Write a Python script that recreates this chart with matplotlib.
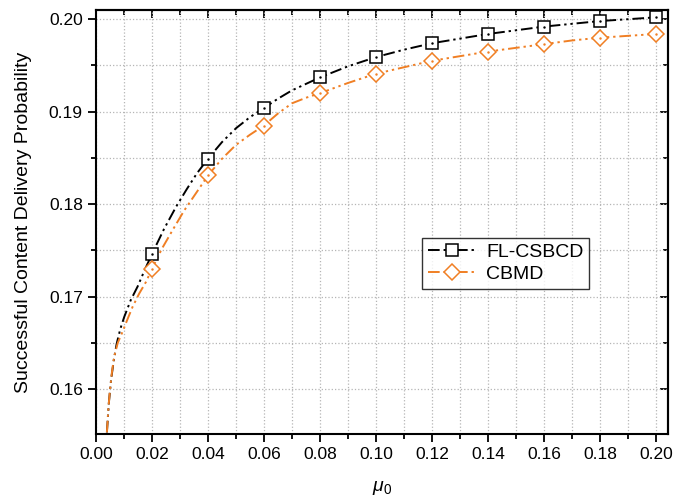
import matplotlib.pyplot as plt
from matplotlib.ticker import MultipleLocator

plt.rcParams['font.family'] = ['Liberation Sans', 'DejaVu Sans']
plt.rcParams['mathtext.fontset'] = 'custom'
plt.rcParams['mathtext.it'] = 'Liberation Sans:italic'
plt.rcParams['mathtext.rm'] = 'Liberation Sans'

# values
mu = [0.02, 0.04, 0.06, 0.08, 0.10, 0.12, 0.14, 0.16, 0.18, 0.20]
fl_csbcd = [0.1746, 0.1849, 0.1904, 0.1937, 0.1959, 0.1974, 0.1984, 0.1992, 0.1998, 0.2002]
cbmd = [0.1730, 0.1831, 0.1885, 0.1920, 0.1941, 0.1955, 0.1965, 0.1973, 0.1980, 0.1984]

# curve read more densely (line only)
mu_line = [0.0039, 0.0046, 0.0054, 0.0064, 0.0074, 0.0087, 0.0101, 0.0124, 0.0149, 0.0173,
           0.02, 0.0243, 0.0286, 0.0324, 0.036, 0.04, 0.045, 0.05, 0.055,
           0.06, 0.065, 0.07, 0.075, 0.08, 0.09, 0.10, 0.11, 0.12, 0.13, 0.14,
           0.15, 0.16, 0.17, 0.18, 0.19, 0.20]
fl_line = [0.1553, 0.1585, 0.1610, 0.1632, 0.1649, 0.1665, 0.1678, 0.1696, 0.1711, 0.1728,
           0.1746, 0.1773, 0.1797, 0.1816, 0.1833, 0.1849, 0.1867, 0.1882, 0.1894,
           0.1904, 0.1914, 0.1923, 0.1930, 0.1937, 0.1949, 0.1959, 0.1967, 0.1974, 0.1979,
           0.1984, 0.1988, 0.1992, 0.1995, 0.1998, 0.2000, 0.2002]
mu_line2 = [0.0039, 0.0044, 0.0050, 0.0057, 0.0065, 0.0078, 0.0095, 0.0112, 0.0131, 0.0154,
            0.0179, 0.02, 0.0236, 0.0274, 0.0315, 0.036, 0.04, 0.045, 0.05, 0.055,
            0.06, 0.065, 0.07, 0.075, 0.08, 0.09, 0.10, 0.11, 0.12, 0.13, 0.14,
            0.15, 0.16, 0.17, 0.18, 0.19, 0.20]
cb_line = [0.1553, 0.1578, 0.1599, 0.1618, 0.1635, 0.1650, 0.1662, 0.1675, 0.1689, 0.1703,
           0.1716, 0.1730, 0.1752, 0.1772, 0.1793, 0.1813, 0.1831, 0.1849, 0.1864, 0.1875,
           0.1885, 0.1898, 0.1909, 0.1915, 0.1920, 0.1931, 0.1941, 0.1948, 0.1955, 0.1960,
           0.1965, 0.1969, 0.1973, 0.1977, 0.1980, 0.1982, 0.1984]

fig = plt.figure(figsize=(6.74, 4.98), dpi=100)
ax = fig.add_axes([0.1424, 0.128, 0.8486, 0.852])

ddot = (0, (6, 2, 1.2, 2, 1.2, 2))
black = 'black'
orange = '#f07f24'

ax.plot(mu_line, fl_line, color=black, lw=1.4, ls=ddot)
ax.plot(mu_line2, cb_line, color=orange, lw=1.4, ls=ddot)
ax.plot(mu, fl_csbcd, ls='none', marker='s', ms=8, mfc='white', mec=black, mew=1.1)
ax.plot(mu, cbmd, ls='none', marker='D', ms=8.5, mfc='white', mec=orange, mew=1.1)
ax.plot(mu, fl_csbcd, ls='none', marker='.', ms=1.5, color=black)
ax.plot(mu, cbmd, ls='none', marker='.', ms=1.5, color=orange)

# legend proxies
ax.plot([], [], color=black, lw=1.4, ls=ddot, marker='s', ms=8, mfc='white', mec=black,
        mew=1.1, label='FL-CSBCD')
ax.plot([], [], color=orange, lw=1.4, ls=ddot, marker='D', ms=8.5, mfc='white', mec=orange,
        mew=1.1, label='CBMD')

ax.set_xlim(0, 0.2043)
ax.set_ylim(0.1551, 0.201)
ax.xaxis.set_major_locator(MultipleLocator(0.02))
ax.xaxis.set_minor_locator(MultipleLocator(0.01))
ax.yaxis.set_major_locator(MultipleLocator(0.01))
ax.yaxis.set_minor_locator(MultipleLocator(0.005))
ax.xaxis.set_major_formatter(plt.FormatStrFormatter('%.2f'))
ax.yaxis.set_major_formatter(plt.FormatStrFormatter('%.2f'))

ax.grid(True, which='both', ls=':', color='#b5b5b5', lw=0.9)
ax.set_axisbelow(True)

for s in ax.spines.values():
    s.set_linewidth(1.5)

ax.tick_params(which='both', direction='out', labelsize=12.5, width=1.3, top=False, right=False)
ax.tick_params(which='major', length=6)
ax.tick_params(which='minor', length=3.5)

# inward ticks on top and right
for side in ('top', 'right'):
    sec = ax.secondary_xaxis('top') if side == 'top' else ax.secondary_yaxis('right')
    axis = sec.xaxis if side == 'top' else sec.yaxis
    sec.spines[side].set_linewidth(1.5)
    sec.tick_params(which='both', direction='in', width=1.3, labelleft=False,
                    labelright=False, labeltop=False, labelbottom=False)
    sec.tick_params(which='major', length=6)
    sec.tick_params(which='minor', length=3.5)
    step = 0.02 if side == 'top' else 0.01
    axis.set_major_locator(MultipleLocator(step))
    axis.set_minor_locator(MultipleLocator(step / 2))

ax.set_ylabel('Successful Content Delivery Probability', fontsize=14, labelpad=12)
ax.set_xlabel(r'$\mu_0$', fontsize=14, labelpad=12)

leg = ax.legend(loc='upper left', bbox_to_anchor=(0.57, 0.463), fontsize=14,
                handlelength=2.5, frameon=True, fancybox=False, borderaxespad=0,
                borderpad=0.3, labelspacing=0.2, handletextpad=0.5)
leg.get_frame().set_edgecolor('black')
leg.get_frame().set_linewidth(1.0)

fig.savefig('out.png', dpi=100)
